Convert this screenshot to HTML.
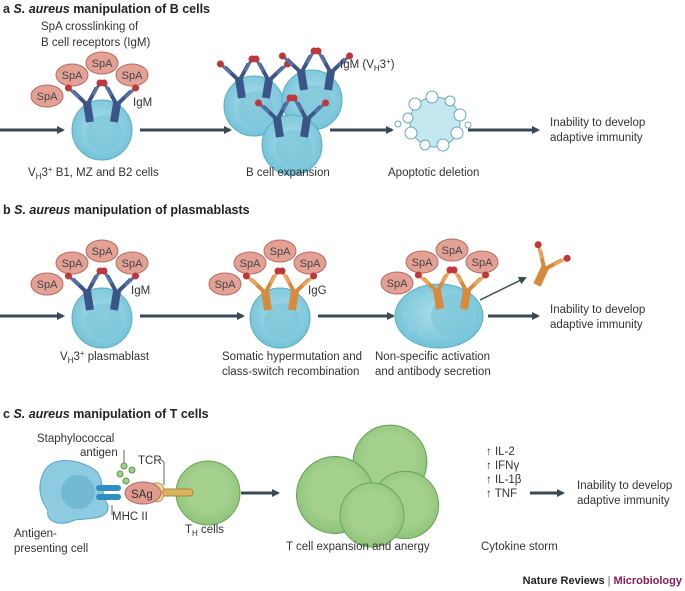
<!DOCTYPE html>
<html><head><meta charset="utf-8"><style>
body{margin:0;background:#fff}
svg{display:block;font-family:"Liberation Sans",sans-serif}
.t{font-size:11.5px;fill:#333}
.h{font-size:12.5px;font-weight:bold;fill:#222}
.s{font-size:11px;fill:#444}
</style></head><body>
<svg width="685" height="591" viewBox="0 0 685 591">
<defs>
<radialGradient id="bc" cx="0.5" cy="0.45" r="0.6"><stop offset="0" stop-color="#aee0ec"/><stop offset="1" stop-color="#6fc0d6"/></radialGradient>
<radialGradient id="gc" cx="0.5" cy="0.45" r="0.6"><stop offset="0" stop-color="#bfe0a8"/><stop offset="1" stop-color="#8cc276"/></radialGradient>
<g id="ab"><path d="M-2,0 L-2,-20 L-12,-33 M2,0 L2,-20 L12,-33" stroke="#3c5588" stroke-width="4" fill="none"/><path d="M-7,-26 L-15,-36 M7,-26 L15,-36" stroke="#5872a8" stroke-width="3" fill="none"/><circle cx="-16" cy="-37" r="3.5" fill="#c0373a"/><circle cx="16" cy="-37" r="3.5" fill="#c0373a"/></g>
<g id="ao"><path d="M-2,0 L-2,-20 L-12,-33 M2,0 L2,-20 L12,-33" stroke="#d88a3c" stroke-width="4" fill="none"/><path d="M-7,-26 L-15,-36 M7,-26 L15,-36" stroke="#e8a860" stroke-width="3" fill="none"/><circle cx="-16" cy="-37" r="3.5" fill="#c0373a"/><circle cx="16" cy="-37" r="3.5" fill="#c0373a"/></g>
<g id="cell"><circle r="30" fill="url(#bc)" stroke="#5aaec4"/><circle cx="2" cy="3" r="18" fill="#7cc4d8" opacity="0.7"/></g>
<g id="gcell"><circle r="32" fill="url(#gc)" stroke="#6aa55a"/><circle r="21" fill="#a4d08e"/></g>
<g id="spa"><ellipse rx="16" ry="11" fill="#e3a195" stroke="#b86a60"/><text x="0" y="4" text-anchor="middle" class="s">SpA</text></g>
<g id="spas"><use href="#spa" x="-55" y="-34"/><use href="#spa" x="-30" y="-55"/><use href="#spa" x="0" y="-67"/><use href="#spa" x="30" y="-55"/></g>
<g id="pairB"><g transform="translate(-12,-8) rotate(-9)"><use href="#ab"/></g><g transform="translate(12,-8) rotate(9)"><use href="#ab"/></g></g>
<g id="pairO"><g transform="translate(-12,-8) rotate(-9)"><use href="#ao"/></g><g transform="translate(12,-8) rotate(9)"><use href="#ao"/></g></g>
<marker id="ar" markerWidth="8" markerHeight="8" refX="6" refY="4" orient="auto" markerUnits="userSpaceOnUse"><path d="M0,0 L8,4 L0,8 Z" fill="#3a4a55"/></marker>
</defs>
<g stroke="#3a4a55" stroke-width="3" marker-end="url(#ar)">
<line x1="0" y1="130" x2="63" y2="130"/><line x1="140" y1="130" x2="230" y2="130"/><line x1="330" y1="130" x2="392" y2="130"/><line x1="468" y1="130" x2="538" y2="130"/>
<line x1="0" y1="316" x2="63" y2="316"/><line x1="140" y1="316" x2="243" y2="316"/><line x1="318" y1="316" x2="393" y2="316"/><line x1="488" y1="316" x2="538" y2="316"/>
<line x1="241" y1="493" x2="278" y2="493"/><line x1="530" y1="493" x2="563" y2="493"/>
</g>
<line x1="480" y1="300" x2="525" y2="278" stroke="#3a4a55" stroke-width="1.5" marker-end="url(#ar)"/>
<!-- panel a -->
<text x="3" y="13" class="h">a <tspan font-style="italic">S. aureus</tspan> manipulation of B cells</text>
<text x="41" y="30" class="t">SpA crosslinking of</text><text x="41" y="46" class="t">B cell receptors (IgM)</text>
<use href="#cell" x="102" y="130"/>
<use href="#spas" x="102" y="130"/>
<use href="#pairB" x="102" y="130"/>
<text x="133" y="106" class="t">IgM</text>
<text x="28" y="176" class="t">V<tspan font-size="8" dy="3">H</tspan><tspan dy="-3">3</tspan><tspan font-size="8" dy="-4">+</tspan><tspan dy="4"> B1, MZ and B2 cells</tspan></text>
<use href="#cell" x="254" y="106"/><use href="#cell" x="312" y="100"/>
<use href="#pairB" x="254" y="106"/><use href="#pairB" x="316" y="98"/>
<use href="#cell" x="292" y="145"/>
<use href="#pairB" x="292" y="145"/>
<text x="340" y="68" class="t">IgM (V<tspan font-size="8" dy="3">H</tspan><tspan dy="-3">3</tspan><tspan font-size="8" dy="-4">+</tspan><tspan dy="4">)</tspan></text>
<text x="246" y="176" class="t">B cell expansion</text>
<g fill="#c4e8f0" stroke="#6aa8bc">
<circle cx="435" cy="122" r="25"/>
<circle cx="415" cy="104" r="6" fill="#fff"/><circle cx="432" cy="97" r="6" fill="#fff"/><circle cx="450" cy="101" r="5" fill="#fff"/><circle cx="460" cy="115" r="6" fill="#fff"/><circle cx="457" cy="133" r="6" fill="#fff"/><circle cx="443" cy="145" r="6" fill="#fff"/><circle cx="425" cy="145" r="5" fill="#fff"/><circle cx="411" cy="133" r="6" fill="#fff"/><circle cx="408" cy="118" r="5" fill="#fff"/><circle cx="398" cy="124" r="3" fill="#fff"/><circle cx="468" cy="125" r="3" fill="#fff"/>
</g>
<text x="388" y="176" class="t">Apoptotic deletion</text>
<text x="550" y="126" class="t">Inability to develop</text><text x="550" y="141" class="t">adaptive immunity</text>
<!-- panel b -->
<text x="3" y="214" class="h">b <tspan font-style="italic">S. aureus</tspan> manipulation of plasmablasts</text>
<use href="#cell" x="102" y="318"/>
<use href="#spas" x="102" y="318"/>
<use href="#pairB" x="102" y="318"/>
<text x="131" y="294" class="t">IgM</text>
<text x="60" y="360" class="t">V<tspan font-size="8" dy="3">H</tspan><tspan dy="-3">3</tspan><tspan font-size="8" dy="-4">+</tspan><tspan dy="4"> plasmablast</tspan></text>
<use href="#cell" x="280" y="318"/>
<use href="#spas" x="280" y="318"/>
<use href="#pairO" x="280" y="318"/>
<text x="308" y="294" class="t">IgG</text>
<text x="222" y="360" class="t">Somatic hypermutation and</text><text x="222" y="375" class="t">class-switch recombination</text>
<ellipse cx="439" cy="316" rx="44" ry="32" fill="url(#bc)" stroke="#5aaec4"/>
<circle cx="452" cy="316" r="21" fill="#7cc4d8" opacity="0.7"/>
<g fill="#8ed0e0"><circle cx="414" cy="303" r="5"/><circle cx="407" cy="315" r="4"/><circle cx="418" cy="320" r="3"/><circle cx="411" cy="328" r="3"/><circle cx="420" cy="333" r="2.5"/></g>
<use href="#spas" x="452" y="317"/>
<use href="#pairO" x="452" y="317"/>
<g transform="translate(537,285) rotate(25)"><use href="#ao"/></g>
<text x="375" y="360" class="t">Non-specific activation</text><text x="375" y="375" class="t">and antibody secretion</text>
<text x="550" y="313" class="t">Inability to develop</text><text x="550" y="328" class="t">adaptive immunity</text>
<!-- panel c -->
<text x="3" y="418" class="h">c <tspan font-style="italic">S. aureus</tspan> manipulation of T cells</text>
<text x="37" y="442" class="t">Staphylococcal</text><text x="80" y="456" class="t">antigen</text>
<path d="M124,450 L124,463" stroke="#666" fill="none"/>
<text x="138" y="464" class="t">TCR</text><path d="M160,459 L164,462 L164,485" stroke="#666" fill="none"/>
<g fill="#9fcf8c" stroke="#5f944f"><circle cx="124" cy="466" r="3"/><circle cx="120" cy="474" r="3"/><circle cx="132" cy="470" r="3"/><circle cx="126" cy="481" r="3"/></g>
<path d="M45,470 C55,455 80,460 95,470 C105,478 100,495 108,505 C110,520 90,518 75,520 C60,527 45,522 48,510 C40,500 36,485 45,470 Z" fill="#8ccbe0" stroke="#5aa6c2"/>
<circle cx="78" cy="492" r="17" fill="#72b9d2"/>
<rect x="96" y="485" width="25" height="6" rx="3" fill="#2f8fc0"/><rect x="96" y="494" width="25" height="6" rx="3" fill="#2f8fc0"/>
<path d="M112,515 L112,505" stroke="#666"/>
<text x="112" y="520" class="t">MHC II</text>
<text x="14" y="537" class="t">Antigen-</text><text x="14" y="552" class="t">presenting cell</text>
<use href="#gcell" x="208" y="493"/>
<rect x="158" y="489" width="35" height="7" rx="3" fill="#d9b45a" stroke="#a8863a"/>
<path d="M152,484 C162,480 166,488 162,492 C166,498 160,505 152,500 Z" fill="#f0d9a0" stroke="#b89550"/>
<ellipse cx="143" cy="493" rx="18" ry="11" fill="#e09a90" stroke="#b86a60"/>
<text x="131" y="498" class="t">SAg</text>
<text x="185" y="533" class="t">T<tspan font-size="8" dy="3">H</tspan><tspan dy="-3"> cells</tspan></text>
<g transform="translate(390,462) scale(1.15)"><use href="#gcell"/></g>
<g transform="translate(405,505) scale(1.05)"><use href="#gcell"/></g>
<g transform="translate(335,495) scale(1.2)"><use href="#gcell"/></g>
<g transform="translate(372,515) scale(1.0)"><use href="#gcell"/></g>
<text x="286" y="550" class="t">T cell expansion and anergy</text>
<text x="486" y="455" class="t">↑ IL-2</text><text x="486" y="469" class="t">↑ IFNγ</text><text x="486" y="483" class="t">↑ IL-1β</text><text x="486" y="497" class="t">↑ TNF</text>
<text x="481" y="550" class="t">Cytokine storm</text>
<text x="577" y="489" class="t">Inability to develop</text><text x="577" y="504" class="t">adaptive immunity</text>
<text x="682" y="584" text-anchor="end" font-size="11" font-weight="bold" fill="#222">Nature Reviews <tspan fill="#666" font-weight="normal">|</tspan> <tspan fill="#8a1c5c">Microbiology</tspan></text>
</svg>
</body></html>
